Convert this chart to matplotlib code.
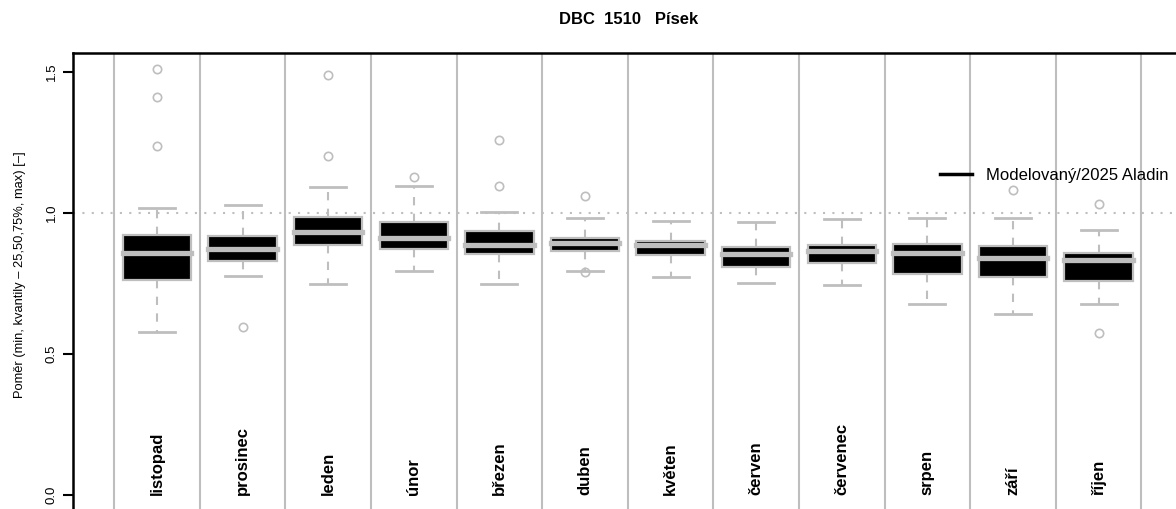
import numpy as np
import matplotlib
matplotlib.use('Agg')
import matplotlib.pyplot as plt
from matplotlib.lines import Line2D

plt.rcParams['font.family'] = ['Liberation Sans', 'DejaVu Sans']

# monthly ratio statistics (min, quartiles, max) + outliers
months = ['listopad', 'prosinec', 'leden', 'únor', 'březen', 'duben',
          'květen', 'červen', 'červenec', 'srpen', 'září', 'říjen']
q_min = [0.578, 0.777, 0.749, 0.795, 0.749, 0.795, 0.774, 0.751, 0.745, 0.678, 0.641, 0.677]
q25 = [0.762, 0.831, 0.885, 0.871, 0.855, 0.865, 0.850, 0.810, 0.822, 0.784, 0.773, 0.759]
q50 = [0.859, 0.872, 0.934, 0.911, 0.888, 0.892, 0.885, 0.853, 0.865, 0.857, 0.839, 0.833]
q75 = [0.922, 0.918, 0.987, 0.967, 0.936, 0.913, 0.901, 0.881, 0.885, 0.889, 0.882, 0.858]
q_max = [1.019, 1.028, 1.091, 1.096, 1.005, 0.982, 0.973, 0.969, 0.979, 0.981, 0.981, 0.939]
outliers = [[1.511, 1.410, 1.236], [0.594], [1.488, 1.203], [1.126], [1.259, 1.095],
            [1.060, 0.792], [], [], [], [], [1.082], [1.032, 0.576]]

title = 'DBC  1510   Písek'
ylab = 'Poměr (min, kvantily – 25,50,75%, max) [–]'
legend_label = 'Modelovaný/2025 Aladin'

grey = '#BEBEBE'

stats = []
for i in range(len(months)):
    stats.append(dict(whislo=q_min[i], q1=q25[i], med=q50[i], q3=q75[i],
                      whishi=q_max[i], fliers=outliers[i], label=months[i]))

pos = np.arange(1, len(months) + 1)

fig = plt.figure(figsize=(11.76, 5.09), dpi=100)
ax = fig.add_axes([73 / 1176, 0.0, 1 - 73 / 1176, 1 - 53 / 509])

# month separators and the 1.0 reference line
for x in np.arange(0.5, len(months) + 1, 1.0):
    ax.axvline(x, color=grey, lw=1.5, zorder=1)
ax.axhline(1.0, color=grey, lw=1.5, ls=(0, (1, 3.5)), zorder=1.5)

ax.bxp(stats, positions=pos, widths=0.8, capwidths=0.42, patch_artist=True,
       showfliers=True,
       boxprops=dict(facecolor='black', edgecolor=grey, linewidth=1.6),
       medianprops=dict(color=grey, linewidth=3.8, solid_capstyle='projecting'),
       whiskerprops=dict(color=grey, linewidth=1.5, linestyle=(0, (4, 4))),
       capprops=dict(color=grey, linewidth=2),
       flierprops=dict(marker='o', markerfacecolor='none', markeredgecolor=grey,
                       markersize=6, markeredgewidth=1.2),
       zorder=3)

for p, m in zip(pos, months):
    ax.text(p, 0.0, m, rotation=90, ha='center', va='bottom',
            fontweight='bold', fontsize=12, zorder=4)

ax.set_xlim(1 - 84 / 85.6, 1 + (1176 - 157) / 85.6)
ax.set_ylim((495 - 509) / 282, (495 - 53) / 282)

ax.set_xticks([])
ax.set_yticks([0.0, 0.5, 1.0, 1.5])
ax.set_yticklabels(['0.0', '0.5', '1.0', '1.5'])
ax.tick_params(axis='y', length=7, width=1.5, labelsize=9.5, pad=4, labelrotation=90)
for lbl in ax.get_yticklabels():
    lbl.set_va('center')

for s in ['right', 'bottom']:
    ax.spines[s].set_visible(False)
ax.spines['top'].set_linewidth(1.8)
ax.spines['left'].set_linewidth(1.8)

ax.set_ylabel(ylab, fontsize=9.3)
ax.yaxis.set_label_coords(-0.043, 0.513)

ax.legend(handles=[Line2D([], [], color='black', lw=2.5)], labels=[legend_label],
          frameon=False, fontsize=12, handlelength=1.92, handletextpad=0.84,
          borderpad=0, borderaxespad=0, loc='center left',
          bbox_to_anchor=(940 / 1176, 1 - 175.7 / 509), bbox_transform=fig.transFigure)

fig.text(628.5 / 1176, 1 - 20 / 509, title, ha='center', va='center',
         fontweight='bold', fontsize=12)

fig.savefig('out.png', dpi=100)
